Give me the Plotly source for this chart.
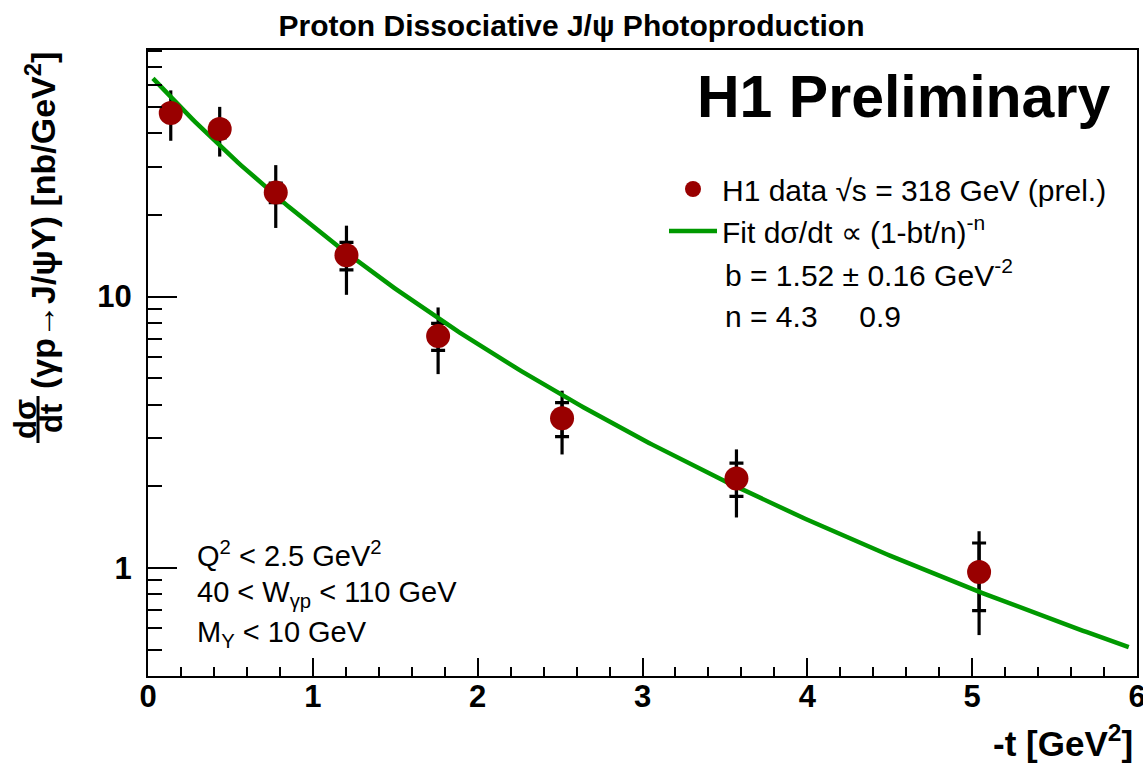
import numpy as np
import plotly.graph_objects as go

# H1 proton-dissociative J/psi photoproduction, d(sigma)/dt vs -t
t_vals = [0.138, 0.435, 0.775, 1.204, 1.760, 2.512, 3.570, 5.042]
dsdt = [47.5, 41.4, 24.2, 14.2, 7.15, 3.56, 2.135, 0.966]
err_tot = [10.0, 8.6, 6.3, 4.05, 1.97, 0.94, 0.60, 0.40]
err_stat = [3.0, 3.0, 2.0, 1.65, 0.81, 0.51, 0.30, 0.27]

# fit d(sigma)/dt = A (1 - b t / n)^(-n), with t < 0 (here -t on the axis)
fit_b = 1.52
fit_n = 4.3
fit_norm = 66.6
fit_tmin, fit_tmax = 0.03, 5.95

x_ticks = [0, 1, 2, 3, 4, 5, 6]
x_minor = [round(0.2 * i, 1) for i in range(31)]
y_ticks = [1, 10]
y_tick_text = ["1", "10"]
y_minor = [0.4, 0.5, 0.6, 0.7, 0.8, 0.9, 2, 3, 4, 5, 6, 7, 8, 9,
           20, 30, 40, 50, 60, 70, 80]
y_lo, y_hi = 0.4, 81.0

RED = "#990000"
GREEN = "#009900"
FONT = "Liberation Sans, Arial, Helvetica, sans-serif"

W, H = 1143, 764
ML, MR, MT, MB = 148, 6, 50, 88
PW = W - ML - MR
PH = H - MT - MB


def px_x(px):
    return (px - ML) / PW


def px_y(py):
    return 1 - (py - MT) / PH


t_fit = np.linspace(fit_tmin, fit_tmax, 300)
s_fit = fit_norm * (1 + fit_b * t_fit / fit_n) ** (-fit_n)

fig = go.Figure()

# total uncertainties (no caps)
fig.add_trace(go.Scatter(
    x=t_vals, y=dsdt, mode="markers",
    marker=dict(size=1, color="rgba(0,0,0,0)"),
    error_y=dict(type="data", array=err_tot, visible=True,
                 color="black", thickness=3.2, width=0),
    showlegend=False, hoverinfo="skip"))

# statistical uncertainties (tick marks at the ends)
fig.add_trace(go.Scatter(
    x=t_vals, y=dsdt, mode="markers",
    marker=dict(size=1, color="rgba(0,0,0,0)"),
    error_y=dict(type="data", array=err_stat, visible=True,
                 color="black", thickness=3.2, width=7),
    showlegend=False, hoverinfo="skip"))

# fit curve
fig.add_trace(go.Scatter(
    x=t_fit, y=s_fit, mode="lines",
    line=dict(color=GREEN, width=4.5),
    name="Fit d\u03c3/dt \u221d (1-bt/n)<sup>-n</sup>",
    legendgroup="fit", legendrank=2))

# data points, drawn above the fit line
fig.add_trace(go.Scatter(
    x=t_vals, y=dsdt, mode="markers",
    marker=dict(size=24, color=RED, line=dict(width=0)),
    name="H1 data \u221As = 318 GeV (prel.)",
    legendgroup="data", legendrank=1))

ann = []
ann.append(dict(text="H1 Preliminary", xref="paper", yref="paper",
                x=px_x(1112), y=px_y(97), xanchor="right", yanchor="middle",
                showarrow=False,
                font=dict(size=59, family=FONT, color="black", weight="bold")))

# fit results
ann.append(dict(text="b = 1.52 \u00b1 0.16 GeV<sup>-2</sup>", xref="paper", yref="paper",
                x=px_x(723), y=px_y(273), xanchor="left", yanchor="middle",
                showarrow=False, font=dict(size=30, family=FONT, color="black")))
ann.append(dict(text="n = 4.3\u00a0\u00a0\u00a0\u00a0\u00a00.9", xref="paper", yref="paper",
                x=px_x(723), y=px_y(316), xanchor="left", yanchor="middle",
                showarrow=False, font=dict(size=30, family=FONT, color="black")))

# kinematic cuts
cuts = ["Q<sup>2</sup> < 2.5 GeV<sup>2</sup>",
        "40 < W<sub>\u03b3p</sub> < 110 GeV",
        "M<sub>Y</sub> < 10 GeV"]
for i, c in enumerate(cuts):
    ann.append(dict(text=c, xref="paper", yref="paper",
                    x=px_x(195), y=px_y(554 + 40 * i), xanchor="left", yanchor="middle",
                    showarrow=False, font=dict(size=29, family=FONT, color="black")))

# x axis title
ann.append(dict(text="-t [GeV<sup>2</sup>]", xref="paper", yref="paper",
                x=px_x(1135), y=px_y(741), xanchor="right", yanchor="middle",
                showarrow=False,
                font=dict(size=35, family=FONT, color="black", weight="bold")))

# y axis title: fraction d(sigma)/dt followed by the process
ann.append(dict(text="d\u03c3", xref="paper", yref="paper",
                x=px_x(25), y=px_y(419), xanchor="center", yanchor="middle",
                textangle=-90, showarrow=False,
                font=dict(size=31, family=FONT, color="black", weight="bold")))
ann.append(dict(text="dt", xref="paper", yref="paper",
                x=px_x(51), y=px_y(419), xanchor="center", yanchor="middle",
                textangle=-90, showarrow=False,
                font=dict(size=31, family=FONT, color="black", weight="bold")))
ann.append(dict(text="(\u03b3p\u2192J/\u03c8Y) [nb/GeV<sup>2</sup>]", xref="paper", yref="paper",
                x=px_x(40), y=px_y(221), xanchor="center", yanchor="middle",
                textangle=-90, showarrow=False,
                font=dict(size=34, family=FONT, color="black", weight="bold")))

shapes = [dict(type="line", xref="paper", yref="paper",
               x0=px_x(38), x1=px_x(38), y0=px_y(396), y1=px_y(443),
               line=dict(color="black", width=3))]

fig.update_layout(
    width=W, height=H,
    margin=dict(l=ML, r=MR, t=MT, b=MB, autoexpand=False),
    paper_bgcolor="white", plot_bgcolor="white",
    font=dict(family=FONT, color="black"),
    title=dict(text="Proton Dissociative J/\u03c8 Photoproduction",
               x=0.5, xref="container", xanchor="center",
               y=1 - 25 / H, yref="container", yanchor="middle",
               font=dict(size=30, family=FONT, color="black", weight="bold")),
    showlegend=True,
    legend=dict(x=px_x(664), y=px_y(163), xanchor="left", yanchor="top",
                xref="paper", yref="paper",
                font=dict(size=30, family=FONT, color="black"),
                bgcolor="rgba(0,0,0,0)", borderwidth=0,
                itemwidth=48, tracegroupgap=2, traceorder="normal"),
    annotations=ann,
    shapes=shapes,
)

fig.update_xaxes(
    range=[-1e-6, 6 + 1e-6], showgrid=False, zeroline=False,
    showline=True, linecolor="black", linewidth=2, mirror=True,
    automargin=False,
    ticks="inside", tickvals=x_ticks, ticklen=18, tickwidth=2, tickcolor="black",
    tickfont=dict(size=31, family=FONT, color="black", weight="bold"),
    ticklabelstandoff=-8, ticklabeloverflow="allow",
    minor=dict(ticks="inside", tickmode="array", tickvals=x_minor,
               ticklen=9, tickwidth=2, tickcolor="black"),
)
fig.update_yaxes(
    type="log", range=[np.log10(y_lo), np.log10(y_hi)],
    showgrid=False, zeroline=False,
    showline=True, linecolor="black", linewidth=2, mirror=True,
    automargin=False,
    ticks="inside", tickvals=y_ticks, ticktext=y_tick_text,
    ticklen=29, tickwidth=2, tickcolor="black",
    ticklabelstandoff=8,
    tickfont=dict(size=31, family=FONT, color="black", weight="bold"),
    minor=dict(ticks="inside", tickmode="array", tickvals=y_minor,
               ticklen=14, tickwidth=2, tickcolor="black"),
)

fig.write_html("out.html")
